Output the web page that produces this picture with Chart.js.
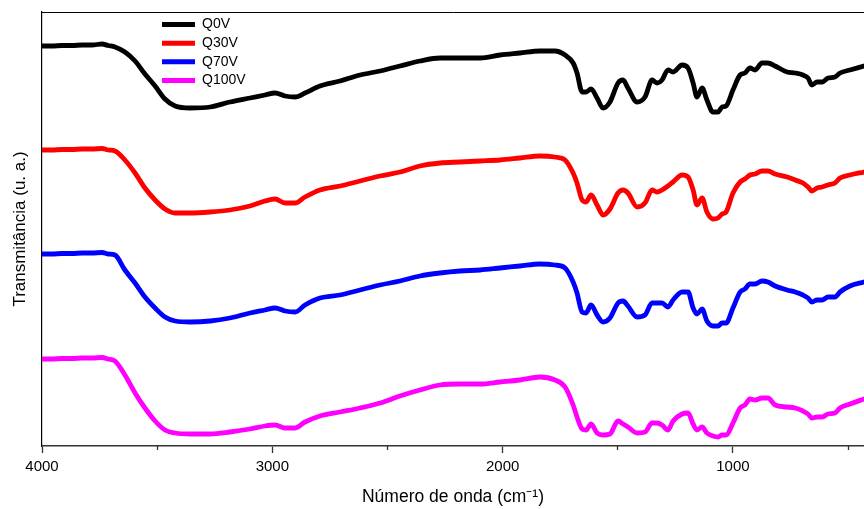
<!DOCTYPE html>
<html>
<head>
<meta charset="utf-8">
<script src="https://cdn.jsdelivr.net/npm/chart.js@4/dist/chart.umd.min.js"></script>
<style>
  html, body { margin: 0; padding: 0; background: #fff; }
  #wrap { width: 864px; height: 509px; position: relative; }
</style>
</head>
<body>
<div id="wrap"><canvas id="c" width="864" height="509"></canvas></div>
<script>
// Wavenumber (cm-1), shared by all spectra
const wavenumber = [4000,3957,3913,3870,3826,3783,3739,3713,3683,
  3640,3596,3553,3509,3466,3422,
  3357,3270,3184,3097,3032,2988,2945,2901,2858,
  2793,2706,2619,2532,2446,2359,2272,2185,2098,2011,
  1925,1838,1773,1729,1694,1677,1655,1638,1616,1590,
  1564,1534,1499,1477,1456,1416,1382,1351,1330,1308,
  1282,1260,1221,1195,1173,1156,1134,1113,1087,1065,
  1047,1030,1000,969,948,926,904,874,848,817,
  765,730,696,674,657,635,613,587,557,535,
  492,431];

// Transmittance (arbitrary units, curves offset vertically)
const q0v = [400,400,400.5,400.5,401,401,402,400.5,399,
  394,385,372,360,347,340,
  338,339,344,348,351,353,350,349,353,
  360,365,371,375,380,385,388,388,388,391,
  393,395,395,391,383,373,354,354,357,348,
  338,344,363,366,358,344,349,366,363,366,
  376,374,381,378,363,349,358,346,334,334,
  339,340,356,371,373,378,376,383,383,380,
  374,373,371,368,361,364,364,368,369,373,
  376,380];

const q30v = [296,296,296.5,296.5,297,297,297.5,296,295,
  286,273,258,246,237,233,
  233,234,236,240,245,247,243,243,249,
  256,260,265,270,274,280,283,284,285,286,
  288,290,289,286,273,263,246,244,251,241,
  231,237,253,256,253,239,243,256,254,256,
  260,264,271,269,256,241,248,234,227,228,
  232,234,253,264,267,271,272,275,275,272,
  269,266,263,259,255,258,259,261,263,268,
  271,274];

const q70v = [192,192,192.5,192.5,193,193,193.5,192,191,
  176,163,149,138,129,125,
  124,125,128,133,136,138,135,134,141,
  148,151,156,161,165,170,173,175,176,178,
  180,182,181,178,164,153,134,133,141,131,
  124,128,143,145,140,129,131,143,143,143,
  139,146,154,154,138,132,137,125,120,120,
  123,123,138,154,157,162,162,165,164,160,
  156,154,151,148,144,146,146,149,149,154,
  160,164];

const q100v = [87,87,87.5,87.5,88,88,88.5,87,85,
  71,53,38,25,16,13,
  12,12,14,17,20,21,18,18,24,
  30,34,38,43,50,56,61,62,62,64,
  66,69,66,59,41,29,17,16,22,13,
  11,12,25,22,19,13,14,23,23,21,
  16,25,32,33,22,16,19,13,10,9,
  11,11,23,38,41,47,46,48,48,41,
  39,38,35,32,28,29,29,32,33,38,
  42,47];

const seriesNames = ['Q0V', 'Q30V', 'Q70V', 'Q100V'];
const seriesColors = ['#000000', '#ff0000', '#0000ff', '#ff00ff'];
const seriesValues = [q0v, q30v, q70v, q100v];

const majorTicks = [4000, 3000, 2000, 1000];
const minorTicks = [3500, 2500, 1500, 500];
const xMin = 431, xMax = 4000;
const yMin = 0, yMax = 434;

const FONT = "'Liberation Sans', Arial, Helvetica, sans-serif";

const datasets = seriesNames.map((name, i) => ({
  label: name,
  data: wavenumber.map((w, k) => ({ x: w, y: seriesValues[i][k] })),
  borderColor: seriesColors[i],
  backgroundColor: seriesColors[i],
  borderWidth: 4.8,
  pointRadius: 0,
  fill: false,
  cubicInterpolationMode: 'monotone',
  borderJoinStyle: 'round',
  borderCapStyle: 'round'
}));

const legendShift = {
  id: 'legendShift',
  afterLayout(chart) {
    if (chart.legend) {
      const pad = chart.legend.options.labels.padding;
      chart.legend.left = 162 - pad;
      chart.legend.top = 12 + 1;
    }
  }
};

new Chart(document.getElementById('c'), {
  type: 'line',
  data: { datasets },
  plugins: [legendShift],
  options: {
    responsive: false,
    animation: false,
    layout: { padding: { top: 12, right: 0, left: 0, bottom: 0 } },
    plugins: {
      tooltip: { enabled: false },
      legend: {
        position: 'chartArea',
        align: 'start',
        labels: {
          boxWidth: 33,
          boxHeight: 5,
          padding: 4.6,
          color: '#000',
          font: { family: FONT, size: 14 },
          generateLabels(chart) {
            return chart.data.datasets.map((ds, i) => ({
              text: ds.label,
              fillStyle: ds.borderColor,
              strokeStyle: ds.borderColor,
              lineWidth: 0,
              fontColor: '#000',
              hidden: false,
              datasetIndex: i
            }));
          }
        }
      }
    },
    scales: {
      x: {
        type: 'linear',
        position: 'bottom',
        reverse: true,
        min: xMin,
        max: xMax,
        afterBuildTicks: s => { s.ticks = majorTicks.map(v => ({ value: v })); },
        afterFit: s => { s.height = 63; },
        ticks: {
          color: '#000',
          font: { family: FONT, size: 15 },
          padding: 5,
          maxRotation: 0,
          autoSkip: false,
          callback: v => String(v)
        },
        grid: { drawOnChartArea: false, drawTicks: true, tickLength: 7, tickColor: '#333', tickWidth: 1.3 },
        border: { display: true, color: '#333', width: 1.6 },
        title: {
          display: true,
          text: 'Número de onda (cm⁻¹)',
          color: '#000',
          font: { family: FONT, size: 17.5 },
          padding: { top: 0, bottom: 1 }
        }
      },
      xMinor: {
        type: 'linear',
        position: { y: 0 },
        reverse: true,
        min: xMin,
        max: xMax,
        afterBuildTicks: s => { s.ticks = minorTicks.map(v => ({ value: v })); },
        ticks: { display: false },
        grid: { drawOnChartArea: false, drawTicks: true, tickLength: 4, tickColor: '#333', tickWidth: 1.3 },
        border: { display: false }
      },
      xTop: {
        type: 'linear',
        position: 'top',
        reverse: true,
        min: xMin,
        max: xMax,
        afterBuildTicks: s => { s.ticks = []; },
        afterFit: s => { s.height = 0; },
        ticks: { display: false },
        grid: { display: false, drawTicks: false },
        border: { display: true, color: '#000', width: 1 }
      },
      y: {
        type: 'linear',
        min: yMin,
        max: yMax,
        afterFit: s => { s.width = 42; },
        ticks: { display: false },
        grid: { display: false, drawTicks: false },
        border: { display: true, color: '#000', width: 1.2 },
        title: {
          display: true,
          text: 'Transmitância (u. a.)',
          color: '#000',
          font: { family: FONT, size: 17 },
          padding: { top: 10, bottom: 0 }
        }
      }
    }
  }
});
</script>
</body>
</html>
